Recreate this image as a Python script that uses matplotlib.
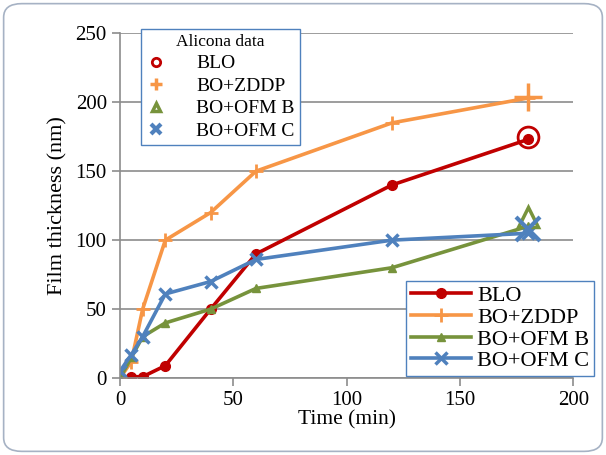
import matplotlib
matplotlib.use('Agg')
import matplotlib.pyplot as plt
from matplotlib.patches import FancyBboxPatch

plt.rcParams['font.family'] = ['Liberation Serif', 'DejaVu Serif']

## Data (film thickness in nm vs time in min)
time = [0, 5, 10, 20, 40, 60, 120, 180]
blo = [0, 1, 1, 9, 50, 90, 140, 173]
zddp = [0, 12, 50, 100, 120, 150, 185, 203]
ofm_b = [0, 15, 30, 40, 50, 65, 80, 110]
ofm_c = [5, 17, 30, 61, 70, 86, 100, 105]
series_names = ['BLO', 'BO+ZDDP', 'BO+OFM B', 'BO+OFM C']

# Alicona measurements at the end of the test
alicona_time = [180, 180, 180, 180]
alicona_vals = [175, 204, 117, 108]

colors = ['#C00000', '#F79646', '#77933C', '#4F81BD']

fig = plt.figure(figsize=(6.06, 4.55), dpi=100)
ax = fig.add_axes([0.198, 0.169, 0.748, 0.758])

# rounded outer border
fig.patches.append(FancyBboxPatch((0.006, 0.008), 0.988, 0.984,
                                  boxstyle='round,pad=0,rounding_size=0.03',
                                  transform=fig.transFigure, fill=False,
                                  edgecolor='#A6B2C4', linewidth=1.2))

# Main series
lines = []
lines += ax.plot(time, blo, color=colors[0], lw=2.6, marker='o', ms=7)
lines += ax.plot(time, zddp, color=colors[1], lw=2.6, marker='+', ms=10, mew=2)
lines += ax.plot(time, ofm_b, color=colors[2], lw=2.6, marker='^', ms=6)
lines += ax.plot(time, ofm_c, color=colors[3], lw=2.6, marker='x', ms=9, mew=2.5)

# Alicona points
al = []
al += ax.plot(alicona_time[0], alicona_vals[0], ls='none', marker='o', ms=15,
              mfc='none', mec=colors[0], mew=2)
al += ax.plot(alicona_time[1], alicona_vals[1], ls='none', marker='+', ms=20,
              mec=colors[1], mew=2.5)
al += ax.plot(alicona_time[2], alicona_vals[2], ls='none', marker='^', ms=15,
              mfc='none', mec=colors[2], mew=2.5)
al += ax.plot(alicona_time[3], alicona_vals[3], ls='none', marker='x', ms=17,
              mec=colors[3], mew=3)

ax.set_xlim(0, 200)
ax.set_ylim(0, 250)
ax.set_xticks(range(0, 201, 50))
ax.set_yticks(range(0, 251, 50))
ax.yaxis.grid(True, color='#8C8C8C', lw=1.2)
ax.set_axisbelow(True)
for s in ['top', 'right']:
    ax.spines[s].set_visible(False)
for s in ['left', 'bottom']:
    ax.spines[s].set_color('#8C8C8C')
    ax.spines[s].set_linewidth(1.2)
ax.tick_params(direction='out', length=6, color='#8C8C8C', width=1.2, labelsize=15)
ax.set_xlabel('Time (min)', fontsize=15.5, labelpad=0)
ax.set_ylabel('Film thickness (nm)', fontsize=16, labelpad=6)

# Alicona legend (upper left)
leg1 = ax.legend(al, series_names, title='Alicona data', loc='upper left',
                 bbox_to_anchor=(0.025, 1.04), fontsize=14, title_fontsize=12.5,
                 fancybox=False, edgecolor='#4F81BD', framealpha=1,
                 handlelength=1.0, handletextpad=1.6, borderpad=0.25,
                 labelspacing=0.25, markerscale=0.4, borderaxespad=0.5)
leg1.get_frame().set_linewidth(1.0)
ax.add_artist(leg1)

# Main legend (lower right)
leg2 = ax.legend(lines, series_names, loc='lower right',
                 bbox_to_anchor=(1.07, -0.025), fontsize=16,
                 fancybox=False, edgecolor='#4F81BD', framealpha=1,
                 handlelength=2.7, handletextpad=0.3, borderpad=0.2,
                 labelspacing=0.05)
leg2.get_frame().set_linewidth(1.0)

fig.savefig('out.png', dpi=100)
